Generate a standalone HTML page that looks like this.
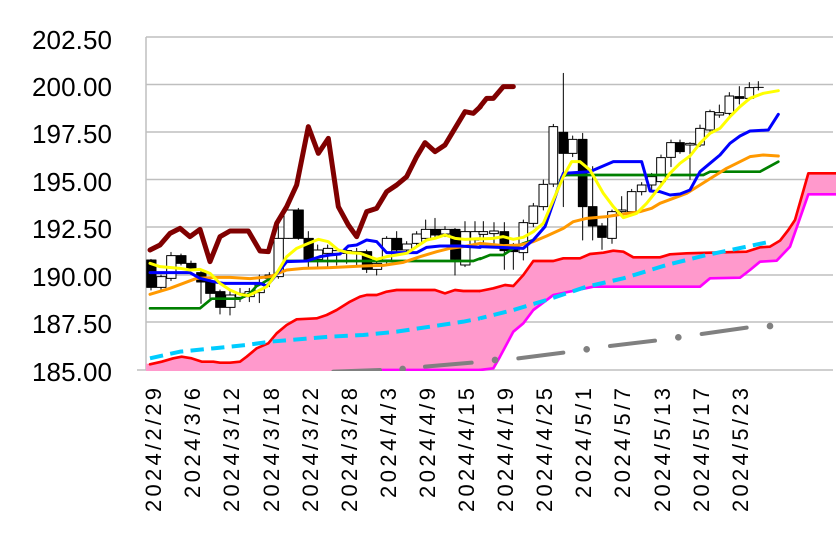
<!DOCTYPE html>
<html><head><meta charset="utf-8"><style>html,body{margin:0;padding:0;background:#fff}svg{display:block}</style></head>
<body>
<svg width="836" height="552" viewBox="0 0 836 552" xmlns="http://www.w3.org/2000/svg" font-family="Liberation Sans, sans-serif">
<rect width="836" height="552" fill="#fff"/>
<g stroke="#bfbfbf" stroke-width="1.5">
<line x1="146" y1="37" x2="833" y2="37"/><line x1="146" y1="84.5" x2="833" y2="84.5"/><line x1="146" y1="132" x2="833" y2="132"/><line x1="146" y1="179.5" x2="833" y2="179.5"/><line x1="146" y1="227" x2="833" y2="227"/><line x1="146" y1="275" x2="833" y2="275"/><line x1="146" y1="322" x2="833" y2="322"/><line x1="137" y1="370" x2="833" y2="370"/>
<line x1="146" y1="37" x2="146" y2="370"/>
</g>
<g font-size="26" text-anchor="end" fill="#000">
<text x="112" y="49" textLength="80">202.50</text><text x="112" y="96" textLength="80">200.00</text><text x="112" y="143" textLength="80">197.50</text><text x="112" y="191" textLength="80">195.00</text><text x="112" y="238" textLength="80">192.50</text><text x="112" y="286" textLength="80">190.00</text><text x="112" y="333" textLength="80">187.50</text><text x="112" y="381" textLength="80">185.00</text>
</g>
<g font-size="22" text-anchor="end" fill="#000">
<text transform="translate(161,388) rotate(-90)" textLength="124">2024/2/29</text>
<text transform="translate(200,388) rotate(-90)" textLength="110">2024/3/6</text>
<text transform="translate(239,388) rotate(-90)" textLength="124">2024/3/12</text>
<text transform="translate(279,388) rotate(-90)" textLength="124">2024/3/18</text>
<text transform="translate(318,388) rotate(-90)" textLength="124">2024/3/22</text>
<text transform="translate(357,388) rotate(-90)" textLength="124">2024/3/28</text>
<text transform="translate(396,388) rotate(-90)" textLength="110">2024/4/3</text>
<text transform="translate(435,388) rotate(-90)" textLength="110">2024/4/9</text>
<text transform="translate(474,388) rotate(-90)" textLength="124">2024/4/15</text>
<text transform="translate(513,388) rotate(-90)" textLength="124">2024/4/19</text>
<text transform="translate(552,388) rotate(-90)" textLength="124">2024/4/25</text>
<text transform="translate(591,388) rotate(-90)" textLength="110">2024/5/1</text>
<text transform="translate(630,388) rotate(-90)" textLength="110">2024/5/7</text>
<text transform="translate(670,388) rotate(-90)" textLength="124">2024/5/13</text>
<text transform="translate(709,388) rotate(-90)" textLength="124">2024/5/17</text>
<text transform="translate(748,388) rotate(-90)" textLength="124">2024/5/23</text>
</g>
<defs><clipPath id="pc"><rect x="146" y="30" width="690" height="341"/></clipPath></defs>
<g clip-path="url(#pc)">
<g transform="translate(130,30) scale(0.33333)" fill="none" stroke-linejoin="round" stroke-linecap="round">
<polygon fill="#ff99cc" stroke="none" points="48,1000 60,1003 95,995 130,985 155,980 185,985 215,995 250,995 270,998 300,998 330,995 350,980 380,955 415,940 440,910 470,885 500,868 560,865 590,855 620,840 660,815 690,800 710,795 740,795 770,785 800,780 830,780 870,780 915,780 945,790 975,780 1000,783 1051,783 1051,1025 48,1025"/>
<polyline stroke="#ff0000" stroke-width="8" points="60,1003 95,995 130,985 155,980 185,985 215,995 250,995 270,998 300,998 330,995 350,980 380,955 415,940 440,910 470,885 500,868 560,865 590,855 620,840 660,815 690,800 710,795 740,795 770,785 800,780 830,780 870,780 915,780 945,790 975,780 1000,783 1051,783"/>
<polyline stroke="#ff00ff" stroke-width="8" points="750,1020 1051,1020"/>
<g stroke="#000" stroke-width="3">
<line x1="63" y1="688" x2="63" y2="780"/><rect x="50" y="690" width="28" height="82" fill="#000"/>
<line x1="93" y1="735" x2="93" y2="780"/><rect x="80" y="740" width="28" height="32" fill="#fff"/>
<line x1="123" y1="667" x2="123" y2="752"/><rect x="110" y="677" width="28" height="68" fill="#fff"/>
<line x1="153" y1="672" x2="153" y2="705"/><rect x="140" y="677" width="28" height="23" fill="#000"/>
<line x1="183" y1="693" x2="183" y2="720"/><rect x="170" y="700" width="28" height="15" fill="#000"/>
<line x1="213" y1="720" x2="213" y2="820"/><rect x="200" y="728" width="28" height="28" fill="#000"/>
<line x1="240" y1="745" x2="240" y2="810"/><rect x="227" y="755" width="28" height="35" fill="#000"/>
<line x1="270" y1="780" x2="270" y2="852"/><rect x="257" y="785" width="28" height="47" fill="#000"/>
<line x1="300" y1="785" x2="300" y2="855"/><rect x="287" y="795" width="28" height="37" fill="#fff"/>
<line x1="330" y1="775" x2="330" y2="815"/><rect x="317" y="790" width="28" height="12" fill="#fff"/>
<line x1="358" y1="775" x2="358" y2="815"/><rect x="345" y="785" width="28" height="15" fill="#fff"/>
<line x1="388" y1="735" x2="388" y2="818"/><rect x="375" y="760" width="28" height="28" fill="#fff"/>
<line x1="418" y1="728" x2="418" y2="770"/><rect x="405" y="735" width="28" height="10" fill="#fff"/>
<line x1="445" y1="580" x2="445" y2="745"/><rect x="432" y="625" width="28" height="115" fill="#fff"/>
<line x1="475" y1="540" x2="475" y2="625"/><rect x="462" y="540" width="28" height="85" fill="#fff"/>
<line x1="505" y1="535" x2="505" y2="628"/><rect x="492" y="540" width="28" height="85" fill="#000"/>
<line x1="535" y1="605" x2="535" y2="710"/><rect x="522" y="625" width="28" height="63" fill="#000"/>
<line x1="563" y1="645" x2="563" y2="710"/><rect x="550" y="660" width="28" height="28" fill="#fff"/>
<line x1="593" y1="645" x2="593" y2="710"/><rect x="580" y="655" width="28" height="15" fill="#fff"/>
<line x1="620" y1="655" x2="620" y2="705"/><rect x="607" y="662" width="28" height="8" fill="#fff"/>
<line x1="650" y1="655" x2="650" y2="700"/><rect x="637" y="662" width="28" height="8" fill="#fff"/>
<line x1="680" y1="655" x2="680" y2="705"/><rect x="667" y="665" width="28" height="6" fill="#fff"/>
<line x1="710" y1="660" x2="710" y2="728"/><rect x="697" y="665" width="28" height="53" fill="#000"/>
<line x1="740" y1="690" x2="740" y2="735"/><rect x="727" y="700" width="28" height="18" fill="#fff"/>
<line x1="770" y1="620" x2="770" y2="700"/><rect x="757" y="625" width="28" height="65" fill="#fff"/>
<line x1="800" y1="605" x2="800" y2="668"/><rect x="787" y="625" width="28" height="35" fill="#000"/>
<line x1="830" y1="635" x2="830" y2="668"/><rect x="817" y="642" width="28" height="18" fill="#fff"/>
<line x1="860" y1="605" x2="860" y2="650"/><rect x="847" y="612" width="28" height="28" fill="#fff"/>
<line x1="887" y1="570" x2="887" y2="630"/><rect x="874" y="598" width="28" height="27" fill="#fff"/>
<line x1="915" y1="565" x2="915" y2="620"/><rect x="902" y="598" width="28" height="17" fill="#000"/>
<line x1="945" y1="590" x2="945" y2="620"/><rect x="932" y="598" width="28" height="14" fill="#fff"/>
<line x1="975" y1="595" x2="975" y2="735"/><rect x="962" y="598" width="28" height="90" fill="#000"/>
<line x1="1005" y1="575" x2="1005" y2="710"/><rect x="992" y="605" width="28" height="100" fill="#fff"/>
<line x1="1035" y1="575" x2="1035" y2="640"/><rect x="1022" y="605" width="28" height="25" fill="#fff"/>
</g>
<polyline stroke="#008000" stroke-width="8" points="60,835 210,835 245,806 330,806 360,790 380,768 400,758 430,740 470,693 1030,693 1051,685"/>
<polyline stroke="#ff9900" stroke-width="9" points="60,793 120,775 200,745 260,742 300,742 360,746 420,740 470,720 520,715 600,713 700,708 760,706 820,697 870,680 920,665 960,655 1000,650 1051,640"/>
<polyline stroke="#0000ff" stroke-width="9" points="60,728 180,728 210,745 250,755 280,760 330,760 390,760 410,768 430,745 470,695 530,693 570,680 600,675 630,672 655,648 680,645 710,630 740,635 770,668 810,668 860,668 890,652 930,648 990,648 1051,652"/>
<polyline stroke="#ffff00" stroke-width="9" points="60,700 90,710 150,715 180,720 210,718 240,730 270,760 300,780 330,793 355,797 380,785 410,770 440,730 470,680 500,655 535,640 565,628 595,635 625,660 655,668 690,670 740,688 770,680 800,675 830,670 860,650 890,630 915,625 945,615 975,625 1005,628 1051,626"/>
<polyline stroke="#800000" stroke-width="15" points="60,660 90,645 120,610 150,595 180,620 210,598 240,695 270,620 300,603 355,603 390,663 415,665 440,580 470,530 500,465 535,290 565,370 595,325 625,530 655,585 680,620 710,545 740,535 770,485 800,465 830,440 860,380 885,338 915,365 945,345 975,295 1005,245 1030,250 1051,230"/>
<polyline stroke="#00ccff" stroke-width="12" stroke-linecap="butt" stroke-dasharray="40,22" points="60,985 150,965 250,955 350,945 420,935 600,920 700,915 800,905 900,890 1000,875 1051,865"/>
<g stroke="#808080" stroke-width="12"><line x1="610" y1="1025" x2="750" y2="1020"/><line x1="885" y1="1010" x2="1025" y2="998"/><circle cx="818" cy="1017" r="4" fill="#808080"/></g>
</g>
<g transform="translate(480,30) scale(0.33333)" fill="none" stroke-linejoin="round" stroke-linecap="round">
<polygon fill="#ff99cc" stroke="none" points="0,783 40,775 75,765 100,768 130,735 160,693 220,693 250,685 300,685 330,672 370,668 400,662 430,665 460,682 540,682 570,673 620,670 800,665 840,652 870,650 900,632 925,600 945,570 985,430 1075,430 1075,493 985,493 930,650 890,692 840,695 810,720 780,743 690,745 660,770 340,770 220,795 160,840 130,880 100,905 60,980 40,1015 0,1025"/>
<polyline stroke="#ff0000" stroke-width="8" points="0,783 40,775 75,765 100,768 130,735 160,693 220,693 250,685 300,685 330,672 370,668 400,662 430,665 460,682 540,682 570,673 620,670 800,665 840,652 870,650 900,632 925,600 945,570 985,430 1075,430"/>
<polyline stroke="#ff00ff" stroke-width="8" points="0,1020 40,1015 60,980 100,905 130,880 160,840 220,795 340,770 660,770 690,745 780,743 810,720 840,695 890,692 930,650 985,493 1075,493"/>
<g stroke="#000" stroke-width="3">
<line x1="10" y1="575" x2="10" y2="640"/><rect x="-3" y="605" width="26" height="8" fill="#fff"/>
<line x1="42" y1="578" x2="42" y2="640"/><rect x="29" y="603" width="26" height="8" fill="#fff"/>
<line x1="73" y1="578" x2="73" y2="718"/><rect x="60" y="605" width="26" height="57" fill="#000"/>
<line x1="100" y1="640" x2="100" y2="718"/><rect x="87" y="655" width="26" height="10" fill="#000"/>
<line x1="130" y1="570" x2="130" y2="690"/><rect x="117" y="578" width="26" height="90" fill="#fff"/>
<line x1="160" y1="520" x2="160" y2="590"/><rect x="147" y="528" width="26" height="52" fill="#fff"/>
<line x1="190" y1="450" x2="190" y2="540"/><rect x="177" y="463" width="26" height="67" fill="#fff"/>
<line x1="220" y1="283" x2="220" y2="470"/><rect x="207" y="290" width="26" height="172" fill="#fff"/>
<line x1="250" y1="130" x2="250" y2="530"/><rect x="237" y="307" width="26" height="63" fill="#000"/>
<line x1="278" y1="318" x2="278" y2="380"/><rect x="265" y="328" width="26" height="42" fill="#fff"/>
<line x1="308" y1="310" x2="308" y2="630"/><rect x="295" y="328" width="26" height="202" fill="#000"/>
<line x1="338" y1="410" x2="338" y2="630"/><rect x="325" y="530" width="26" height="58" fill="#000"/>
<line x1="366" y1="580" x2="366" y2="658"/><rect x="353" y="588" width="26" height="34" fill="#000"/>
<line x1="396" y1="540" x2="396" y2="640"/><rect x="383" y="545" width="26" height="80" fill="#fff"/>
<line x1="425" y1="500" x2="425" y2="560"/><rect x="412" y="540" width="26" height="5" fill="#fff"/>
<line x1="455" y1="478" x2="455" y2="550"/><rect x="442" y="485" width="26" height="60" fill="#fff"/>
<line x1="485" y1="458" x2="485" y2="495"/><rect x="472" y="465" width="26" height="20" fill="#fff"/>
<line x1="515" y1="430" x2="515" y2="480"/><rect x="502" y="440" width="26" height="25" fill="#fff"/>
<line x1="543" y1="375" x2="543" y2="460"/><rect x="530" y="383" width="26" height="72" fill="#fff"/>
<line x1="573" y1="330" x2="573" y2="410"/><rect x="560" y="338" width="26" height="44" fill="#fff"/>
<line x1="600" y1="330" x2="600" y2="370"/><rect x="587" y="338" width="26" height="27" fill="#000"/>
<line x1="630" y1="338" x2="630" y2="448"/><rect x="617" y="340" width="26" height="5" fill="#fff"/>
<line x1="660" y1="285" x2="660" y2="350"/><rect x="647" y="295" width="26" height="50" fill="#fff"/>
<line x1="690" y1="240" x2="690" y2="305"/><rect x="677" y="245" width="26" height="55" fill="#fff"/>
<line x1="718" y1="225" x2="718" y2="262"/><rect x="705" y="248" width="26" height="7" fill="#fff"/>
<line x1="748" y1="188" x2="748" y2="255"/><rect x="735" y="198" width="26" height="52" fill="#fff"/>
<line x1="778" y1="170" x2="778" y2="222"/><rect x="765" y="200" width="26" height="5" fill="#000"/>
<line x1="808" y1="158" x2="808" y2="210"/><rect x="795" y="173" width="26" height="32" fill="#fff"/>
<line x1="835" y1="155" x2="835" y2="180"/><line x1="822" y1="172" x2="850" y2="172"/>
</g>
<polyline stroke="#008000" stroke-width="8" points="0,687 30,675 70,675 100,655 130,640 160,630 195,590 245,440 260,435 670,435 690,425 840,425 895,395"/>
<polyline stroke="#ff9900" stroke-width="9" points="0,640 70,647 120,645 160,635 200,618 250,595 280,575 320,565 380,560 430,552 480,545 515,535 540,520 580,505 620,490 660,465 700,440 740,415 780,395 810,380 850,375 895,378"/>
<polyline stroke="#0000ff" stroke-width="9" points="0,650 130,655 160,630 195,590 250,430 330,425 400,395 485,395 510,483 540,485 570,495 600,492 630,480 660,425 690,400 720,375 750,340 780,318 810,303 865,300 895,253"/>
<polyline stroke="#ffff00" stroke-width="9" points="0,627 40,625 70,620 100,628 130,622 160,605 190,580 220,510 250,440 275,395 300,395 330,420 370,490 400,530 430,563 470,550 500,520 540,470 570,430 600,400 630,378 660,340 690,310 720,295 750,260 780,230 810,205 850,190 895,182"/>
<polyline stroke="#800000" stroke-width="15" points="0,230 20,205 40,205 70,170 100,170"/>
<polyline stroke="#00ccff" stroke-width="12" stroke-linecap="butt" stroke-dasharray="40,22" stroke-dashoffset="20" points="0,865 100,840 200,810 320,770 430,745 560,705 680,675 800,650 870,635"/>
<g stroke="#808080" stroke-width="12" fill="#808080"><circle cx="45" cy="990" r="4"/><line x1="115" y1="985" x2="250" y2="968"/><circle cx="320" cy="958" r="4"/><line x1="390" y1="948" x2="525" y2="932"/><circle cx="595" cy="922" r="4"/><line x1="665" y1="912" x2="800" y2="893"/><circle cx="870" cy="888" r="4"/></g>
</g>
</g>
</svg>
</body></html>
